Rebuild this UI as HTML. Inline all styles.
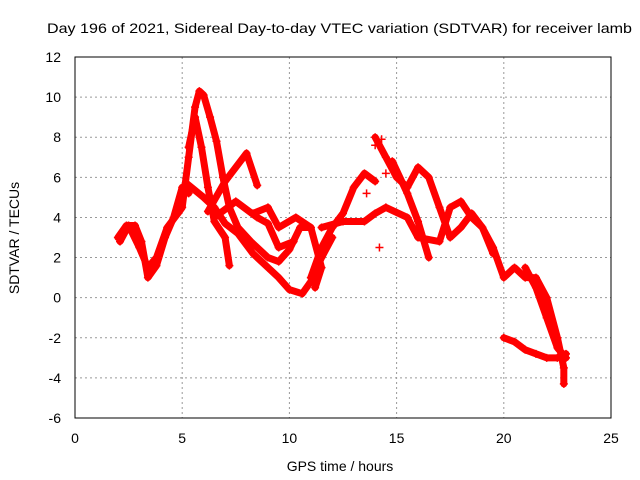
<!DOCTYPE html>
<html><head><meta charset="utf-8"><style>
body{margin:0;background:#fff}
svg{display:block;font-family:"Liberation Sans",sans-serif;font-size:14px}
</style></head><body>
<svg id="chart" width="640" height="480">
<rect width="640" height="480" fill="#fff"/>
<text x="47" y="33" textLength="585" lengthAdjust="spacingAndGlyphs">Day 196 of 2021, Sidereal Day-to-day VTEC variation (SDTVAR) for receiver lamb</text>
<text x="340" y="471" text-anchor="middle">GPS time / hours</text>
<text transform="translate(19,238) rotate(-90)" text-anchor="middle">SDTVAR / TECUs</text>
<g id="grid"></g><g id="marks"></g>
<rect x="75" y="57" width="536" height="361" fill="none" stroke="#000"/>
</svg>
<script>
const xTicks=[0,5,10,15,20,25];
const yTicks=[-6,-4,-2,0,2,4,6,8,10,12];
const track1=[[2.0,3.0],[2.4,3.6],[2.8,3.6],[3.1,2.8],[3.4,1.0],[3.8,1.6],[4.2,3.0],[4.6,4.0],[5.0,5.5],[5.3,5.2]];
const track2=[[2.1,2.8],[2.5,3.6],[3.0,2.5],[3.4,1.5],[3.8,2.0],[4.3,3.5],[4.8,4.2],[5.0,4.5],[5.3,7.0],[5.6,9.5],[5.8,10.3],[6.0,10.1],[6.3,9.0],[6.6,7.8],[6.9,6.0],[7.2,4.5],[7.6,3.5],[8.2,2.8],[9.0,2.0],[9.5,1.8],[10.0,2.4],[10.5,3.5],[11.0,3.5]];
const track3=[[5.3,7.5],[5.6,9.0],[5.9,7.5],[6.2,5.5],[6.5,3.8],[7.0,3.0],[7.2,1.6]];
const track4=[[6.2,4.3],[7.0,5.8],[8.0,7.2],[8.5,5.6]];
const track5=[[5.2,5.7],[6.0,5.0],[6.5,4.5],[7.0,3.7],[7.6,3.2],[8.3,2.2],[9.0,1.5],[9.5,1.0],[10.0,0.4],[10.6,0.2],[11.0,0.8],[11.5,2.0],[12.0,3.0]];
const track6=[[6.5,4.0],[7.5,4.8],[8.5,4.0],[9.0,3.7],[9.5,2.5],[10.2,2.8]];
const track7=[[8.3,4.2],[9.0,4.5],[9.5,3.5],[10.3,4.0],[11.0,3.5],[11.5,1.5],[11.2,0.5]];
const track8=[[11.0,1.0],[11.5,2.5],[12.0,3.5],[12.5,4.2],[13.0,5.5],[13.5,6.2],[14.0,5.8]];
const track9=[[14.0,8.0],[14.5,7.0],[15.0,6.0],[15.5,5.5],[16.0,6.5],[16.5,6.0],[17.0,4.5],[17.5,3.0],[18.0,3.5],[18.5,4.2],[19.0,3.5],[19.5,2.5],[20.0,1.0],[20.5,1.5],[21.0,1.0],[21.5,1.0],[22.0,0.0],[22.5,-2.0],[22.8,-3.5],[22.8,-4.3]];
const track10=[[11.5,3.5],[12.5,3.8],[13.5,3.8],[14.0,4.2],[14.5,4.5],[15.5,4.0],[16.0,3.0],[17.0,2.8],[17.5,4.5],[18.0,4.8],[18.5,4.0],[19.0,3.5],[19.5,2.2]];
const track11=[[14.8,6.8],[15.5,5.2],[16.0,3.8],[16.5,2.0]];
const track12=[[20.0,-2.0],[20.5,-2.2],[21.0,-2.6],[21.5,-2.8],[22.0,-3.0],[22.5,-3.0],[22.9,-2.8]];
const track13=[[21.0,1.5],[21.5,0.5],[22.0,-1.0],[22.5,-2.5],[22.9,-3.0]];
const scatter=[[14.0,7.6],[14.3,7.9],[14.2,2.5],[13.6,5.2],[14.5,6.2]];
const tracks=[track1,track2,track3,track4,track5,track6,track7,track8,track9,track10,track11,track12,track13];
const NS="http://www.w3.org/2000/svg";
const X=t=>75+t*536/25, Y=v=>418-(v+6)*361/18;
const grid=document.getElementById('grid'), marks=document.getElementById('marks'), svg=document.getElementById('chart');
function mk(tag,attrs,parent){const e=document.createElementNS(NS,tag);for(const k in attrs)e.setAttribute(k,attrs[k]);parent.appendChild(e);return e;}
xTicks.forEach(t=>{
 const g=mk('line',{x1:X(t),x2:X(t),y1:57,y2:418,stroke:'#999','stroke-dasharray':'2,3'},grid);
 
 
 const tx=mk('text',{x:X(t),y:443,'text-anchor':'middle'},svg);tx.textContent=t;
 
 
});
yTicks.forEach(v=>{
 const g=mk('line',{x1:75,x2:611,y1:Y(v),y2:Y(v),stroke:'#999','stroke-dasharray':'2,3'},grid);
 
 
 const tx=mk('text',{x:61,y:Y(v)+5,'text-anchor':'end'},svg);tx.textContent=v;
 
 
});
function plus(p){
 const d=`M${X(p[0])-4},${Y(p[1])}h8M${X(p[0])},${Y(p[1])-4}v8`;
 const e=mk('path',{d:d,stroke:'#f00','stroke-width':1.5},marks);
 
 
}
tracks.forEach(tr=>{
 const pl=mk('polyline',{points:tr.map(p=>X(p[0])+','+Y(p[1])).join(' '),fill:'none',stroke:'#f00','stroke-width':7,'stroke-linejoin':'round','stroke-linecap':'round'},marks);
 
 
 tr.forEach(plus);
});
scatter.forEach(plus);
</script>
</body></html>
